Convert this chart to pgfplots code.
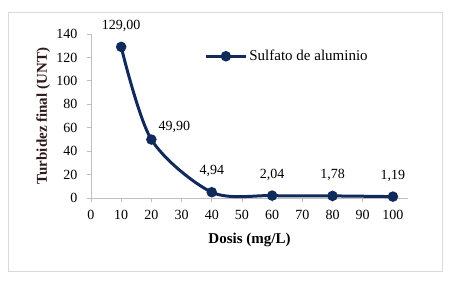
\documentclass[border=0pt]{standalone}
\usepackage{pgfplots}
\pgfplotsset{compat=1.18}
\usepackage{fontspec}
\setmainfont{Liberation Serif}
\definecolor{navy}{HTML}{112A5C}
\definecolor{axgray}{HTML}{BFBFBF}
\definecolor{framegray}{HTML}{D9D9D9}
\definecolor{ylab}{HTML}{2E1A1A}
\begin{document}
\begin{tikzpicture}
\path[use as bounding box] (-91bp,-84bp) rectangle (358bp,198bp);
\draw[framegray, line width=0.75bp] (-83bp,-73bp) rectangle (351bp,186bp);
\begin{axis}[
  at={(0,0)}, anchor=south west,
  scale only axis, width=317bp, height=164bp,
  xmin=0, xmax=105, ymin=0, ymax=140,
  xtick={0,10,...,100}, ytick={0,20,...,140},
  axis x line*=bottom, axis y line*=left,
  axis line style={axgray, line width=0.75bp, -},
  tick align=outside, major tick length=4bp,
  tick style={axgray, line width=0.75bp},
  font=\fontsize{14bp}{16bp}\selectfont,
  /pgf/number format/assume math mode=true,
  ticklabel style={font=\fontsize{14bp}{16bp}\selectfont, black},
  xticklabel style={yshift=-5bp},
  yticklabel style={xshift=-6bp},
  xlabel={\textbf{Dosis (mg/L)}},
  ylabel={\textbf{Turbidez final (UNT)}},
  xlabel style={at={(axis description cs:0.5,-0.256)}, anchor=center, font=\fontsize{15bp}{17bp}\selectfont},
  ylabel style={at={(axis description cs:-0.151,0.5)}, anchor=center, rotate=0, font=\fontsize{15bp}{17bp}\selectfont, text=ylab},
  clip=false,
  legend style={at={(axis cs:37.5,121)}, anchor=west, draw=none, fill=none, inner sep=0pt,
    font=\fontsize{15bp}{17bp}\selectfont},
  legend cell align=left,
  legend image code/.code={\draw[mark repeat=2, mark phase=2] plot coordinates {(0bp,0bp) (20bp,0bp) (40bp,0bp)};},
]
\addplot[navy, line width=3bp, smooth, mark=*, mark size=4.2bp, mark options={solid, fill=navy, line width=2bp},
  nodes near coords, point meta=explicit symbolic,
  visualization depends on={\thisrow{dx}\as\dx},
  visualization depends on={\thisrow{dy}\as\dy},
  every node near coord/.append style={anchor=center, xshift=\dx bp, yshift=\dy bp, text=black,
    font=\fontsize{14bp}{16bp}\selectfont},
] table[x=x, y=y, meta=lab] {
x   y     lab     dx  dy
10  129   129,00  0   21
20  49.9  49,90   23  13
40  4.94  4,94    0   21
60  2.04  2,04    0   21
80  1.78  1,78    0   21
100 1.19  1,19    0   21
};
\addlegendentry{Sulfato de aluminio}
\end{axis}
\end{tikzpicture}
\end{document}
